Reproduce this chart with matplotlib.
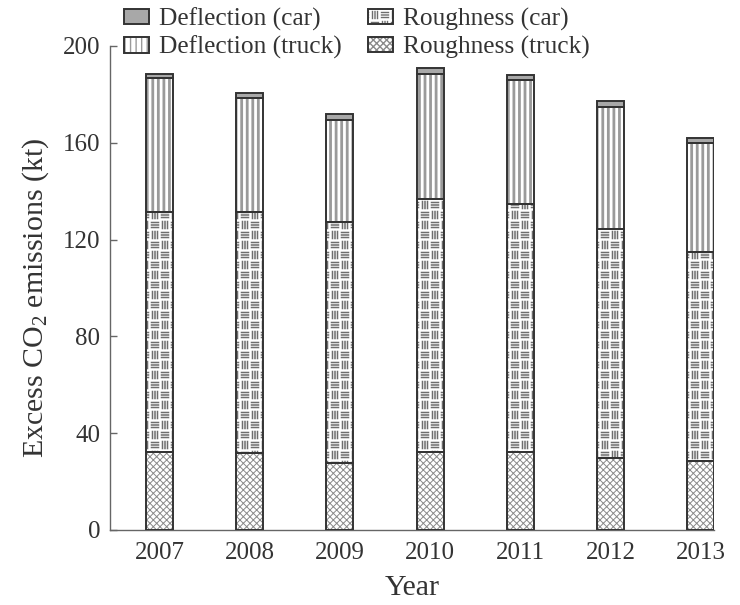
import numpy as np
import matplotlib
matplotlib.use("Agg")
import matplotlib.pyplot as plt
import matplotlib.hatch as mhatch
from matplotlib.path import Path
from matplotlib.legend_handler import HandlerTuple

# ---------------- data ----------------
years = ["2007", "2008", "2009", "2010", "2011", "2012", "2013"]
roughness_truck = [32.4, 31.8, 27.8, 32.4, 32.4, 29.6, 28.5]
roughness_car = [99.1, 99.7, 99.3, 104.4, 102.3, 94.8, 86.4]
deflection_truck = [55.3, 47.1, 42.3, 51.6, 51.3, 50.5, 45.1]
deflection_car = [1.8, 2.0, 2.4, 2.4, 2.0, 2.4, 2.1]
y_ticks = [0, 40, 80, 120, 160, 200]


# ------------- custom "basket weave" hatch (triggered by '*') -------------
class BasketHatch(mhatch.HatchPatternBase):
    def __init__(self, hatch, density):
        self.n = 10
        self.k = 3
        self.num_vertices = self.n * self.n * self.k * 2 if '*' in hatch else 0

    def set_vertices_and_codes(self, vertices, codes):
        s = 1.0 / self.n
        verts = []
        for i in range(self.n):
            for j in range(self.n):
                x0, y0 = i * s, j * s
                horiz = (i + j) % 2 == 0
                a, b = 0.15 * s, 0.85 * s
                for m in range(self.k):
                    off = (m + 1) / (self.k + 1) * s
                    if horiz:
                        verts += [(x0 + a, y0 + off), (x0 + b, y0 + off)]
                    else:
                        verts += [(x0 + off, y0 + a), (x0 + off, y0 + b)]
        vertices[:] = np.array(verts)
        codes[0::2] = Path.MOVETO
        codes[1::2] = Path.LINETO


mhatch._hatch_types = [t for t in mhatch._hatch_types if t is not mhatch.Stars] + [BasketHatch]

# ---------------- style ----------------
plt.rcParams['font.family'] = ['Liberation Serif', 'DejaVu Serif']
plt.rcParams['mathtext.fontset'] = 'custom'
plt.rcParams['mathtext.rm'] = 'Liberation Serif'
plt.rcParams['mathtext.it'] = 'Liberation Serif:italic'
plt.rcParams['hatch.linewidth'] = 0.8

FS_TICK = 18
FS_LEG = 18.3
FS_LAB = 21.5
EDGE = '#333333'
SPINE = '#666666'
TXT = '#333333'

fig = plt.figure(figsize=(7.4, 6.05), dpi=100)
ax = fig.add_axes([0.1486, 0.124, 0.8164, 0.800])

x = np.arange(len(years))
w = 0.3

segments = [
    (roughness_truck, dict(facecolor='white', hatch='xxxxx', hatch_color='#8a8a8a', hlw=0.7)),
    (roughness_car, dict(facecolor='white', hatch='*', hatch_color='#6e6e6e', hlw=1.1)),
    (deflection_truck, dict(facecolor='white', hatch='|||', hatch_color='#9a9a9a', hlw=2.0)),
    (deflection_car, dict(facecolor='#a8a8a8', hatch=None, hatch_color='#a8a8a8', hlw=1.0)),
]

handles = []
bottom = np.zeros(len(years))
for vals, st in segments:
    vals = np.array(vals)
    plt.rcParams['hatch.linewidth'] = st['hlw']
    b1 = ax.bar(x, vals, w, bottom=bottom, facecolor=st['facecolor'],
                edgecolor=st['hatch_color'], hatch=st['hatch'], linewidth=0, zorder=2)
    b2 = ax.bar(x, vals, w, bottom=bottom, facecolor='none',
                edgecolor=EDGE, linewidth=1.4, zorder=3)
    handles.append((b1[0], b2[0]))
    bottom = bottom + vals

labels = ["Roughness (truck)", "Roughness (car)", "Deflection (truck)", "Deflection (car)"]
order = [3, 2, 1, 0]
leg = fig.legend([handles[i] for i in order], [labels[i] for i in order],
                 handler_map={tuple: HandlerTuple(ndivide=1, pad=0)},
                 ncol=2, loc='upper left', bbox_to_anchor=(0.144, 1.017),
                 frameon=False, fontsize=FS_LEG, handlelength=0.98, handleheight=0.55,
                 handletextpad=0.4, columnspacing=1.0, labelspacing=0.2,
                 borderpad=0.2)
for t in leg.get_texts():
    t.set_color(TXT)

ax.set_xlim(-0.55, 6.15)
ax.set_ylim(0, 200)
ax.set_yticks(y_ticks)
ax.set_xticks(x)
ax.set_xticklabels(years)
ax.tick_params(axis='x', length=0, pad=9, labelsize=FS_TICK, labelcolor=TXT)
ax.tick_params(axis='y', length=5, width=1, color=SPINE, pad=7, labelsize=FS_TICK,
               labelcolor=TXT, direction='in')

for s in ['top', 'right']:
    ax.spines[s].set_visible(False)
for s in ['left', 'bottom']:
    ax.spines[s].set_color(SPINE)
    ax.spines[s].set_linewidth(1.0)

ax.set_xlabel('Year', fontsize=FS_LAB, color=TXT)
ax.set_ylabel('Excess CO$_2$ emissions (kt)', fontsize=FS_LAB, color=TXT)
ax.xaxis.set_label_coords(0.5, -0.092)
ax.yaxis.set_label_coords(-0.097, 0.48)

fig.savefig('out.png', dpi=100)
